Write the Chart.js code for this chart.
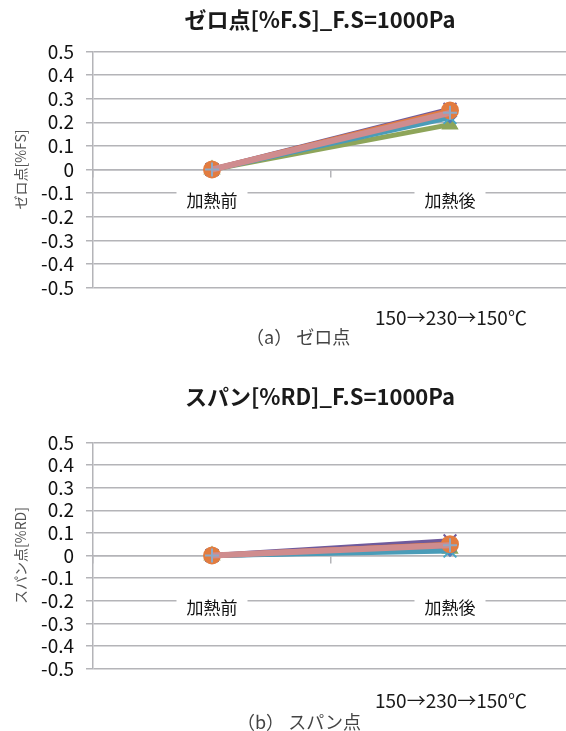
<!DOCTYPE html>
<html>
<head>
<meta charset="utf-8">
<script src="https://cdn.jsdelivr.net/npm/chart.js@4.4.1/dist/chart.umd.min.js"></script>
<style>
  body { margin: 0; background: #fff; width: 566px; height: 731px; overflow: hidden; position: relative;
         font-family: 'Noto Sans CJK JP', sans-serif; }
  .box { position: absolute; left: 0; width: 566px; overflow: hidden; }
  .box canvas { display: block; }
  .note { position: absolute; white-space: nowrap; line-height: 1; }
  .temp { font-size: 19px; color: #1a1a1a; }
  .cap { font-size: 18px; color: #444; }
</style>
</head>
<body>
<div class="box" style="top:0;height:311px"><canvas id="zeroChart" width="580" height="311"></canvas></div>
<div class="note temp" style="left:375px;top:307px">150→230→150℃</div>
<div class="note cap" style="left:246px;top:327px">（a） ゼロ点</div>

<div class="box" style="top:360px;height:332px"><canvas id="spanChart" width="580" height="332"></canvas></div>
<div class="note temp" style="left:375px;top:690px">150→230→150℃</div>
<div class="note cap" style="left:237px;top:712px">（b） スパン点</div>

<script>
  const categories = ['加熱前', '加熱後'];
  const yTicks = [-0.5, -0.4, -0.3, -0.2, -0.1, 0, 0.1, 0.2, 0.3, 0.4, 0.5];

  // (a) zero point, %F.S
  const zeroPink = [0, 0.24];
  const zeroOrange = [0, 0.25];
  const zeroPurple = [0, 0.255];
  const zeroTeal = [0, 0.22];
  const zeroBlue = [0, 0.225];
  const zeroGreen = [0, 0.19];

  // (b) span, %RD
  const spanPink = [0, 0.045];
  const spanOrange = [0, 0.05];
  const spanPurple = [0, 0.065];
  const spanTeal = [0, 0.02];
  const spanBlue = [0, 0.025];
  const spanGreen = [0, 0.03];

  const fontFamily = "'Noto Sans CJK JP', sans-serif";
  const gridColor = '#b4b4b8';
  Chart.defaults.font.family = fontFamily;

  // the title in the original sits right of the canvas middle
  const shiftTitle = {
    id: 'shiftTitle',
    afterLayout: function(chart) {
      if (chart.titleBlock) chart.titleBlock.left = 67;
    }
  };

  function lineSet(values, color, style, markColor, radius, width) {
    return {
      data: values,
      borderColor: color,
      borderWidth: width,
      pointStyle: style,
      pointRadius: radius,
      pointBackgroundColor: markColor,
      pointBorderColor: markColor,
      pointBorderWidth: 2,
      tension: 0
    };
  }

  function makeChart(canvasId, title, yTitle, sets, opts) {
    return new Chart(document.getElementById(canvasId), {
      type: 'line',
      plugins: [shiftTitle],
      data: {
        labels: categories,
        datasets: [
          lineSet(sets[0], '#cf8c8e', 'cross', '#8fa9c6', 7, 6),
          lineSet(sets[1], '#e27c40', 'circle', '#e27c40', 8, 5),
          lineSet(sets[2], '#6f5a9c', 'crossRot', '#6f5a9c', 9, 5),
          lineSet(sets[3], '#4a9cb8', 'crossRot', '#4aa6c4', 9, 5),
          lineSet(sets[4], '#4f7fba', 'rectRot', '#4f7fba', 6, 5),
          lineSet(sets[5], '#8ea55a', 'triangle', '#8ea55a', 8, 5)
        ]
      },
      options: {
        responsive: false,
        animation: false,
        events: [],
        layout: { padding: { left: 0, right: 7, top: 0, bottom: 0 } },
        plugins: {
          legend: { display: false },
          tooltip: { enabled: false },
          title: {
            display: true,
            text: title,
            color: '#1a1a1a',
            font: { size: 22, weight: 'bold' },
            padding: { top: opts.titleTop, bottom: opts.titleBottom }
          }
        },
        scales: {
          x: {
            type: 'category',
            position: { y: 0 },
            offset: true,
            grid: { drawOnChartArea: false, tickLength: 7, color: gridColor, lineWidth: 1.5, offset: true },
            border: { color: gridColor, width: 1.5 },
            ticks: {
              color: '#111',
              font: { size: 17 },
              padding: opts.labelPad,
              showLabelBackdrop: true,
              backdropColor: '#fff',
              backdropPadding: { x: 10, y: 2 }
            },
            afterFit: function(scale) { scale.height = 0; }
          },
          y: {
            min: -0.5,
            max: 0.5,
            afterBuildTicks: function(scale) {
              scale.ticks = yTicks.map(v => ({ value: v }));
            },
            ticks: {
              autoSkip: false,
              color: '#111',
              font: { size: 19 },
              padding: 12,
              callback: v => (v === 0 ? '0' : v.toFixed(1))
            },
            grid: { color: gridColor, lineWidth: 1.5, tickLength: 7 },
            border: { color: gridColor, width: 1.5 },
            title: {
              display: true,
              text: yTitle,
              color: '#555',
              font: { size: 14 },
              padding: { top: 12, bottom: 0 }
            },
            afterFit: function(scale) { scale.width = 93; }
          }
        }
      }
    });
  }

  makeChart('zeroChart', 'ゼロ点[%F.S]_F.S=1000Pa', 'ゼロ点[%FS]',
    [zeroPink, zeroOrange, zeroPurple, zeroTeal, zeroBlue, zeroGreen],
    { titleTop: 6, titleBottom: 19, labelPad: 14 });

  makeChart('spanChart', 'スパン[%RD]_F.S=1000Pa', 'スパン点[%RD]',
    [spanPink, spanOrange, spanPurple, spanTeal, spanBlue, spanGreen],
    { titleTop: 23, titleBottom: 33, labelPad: 35 });
</script>
</body>
</html>
